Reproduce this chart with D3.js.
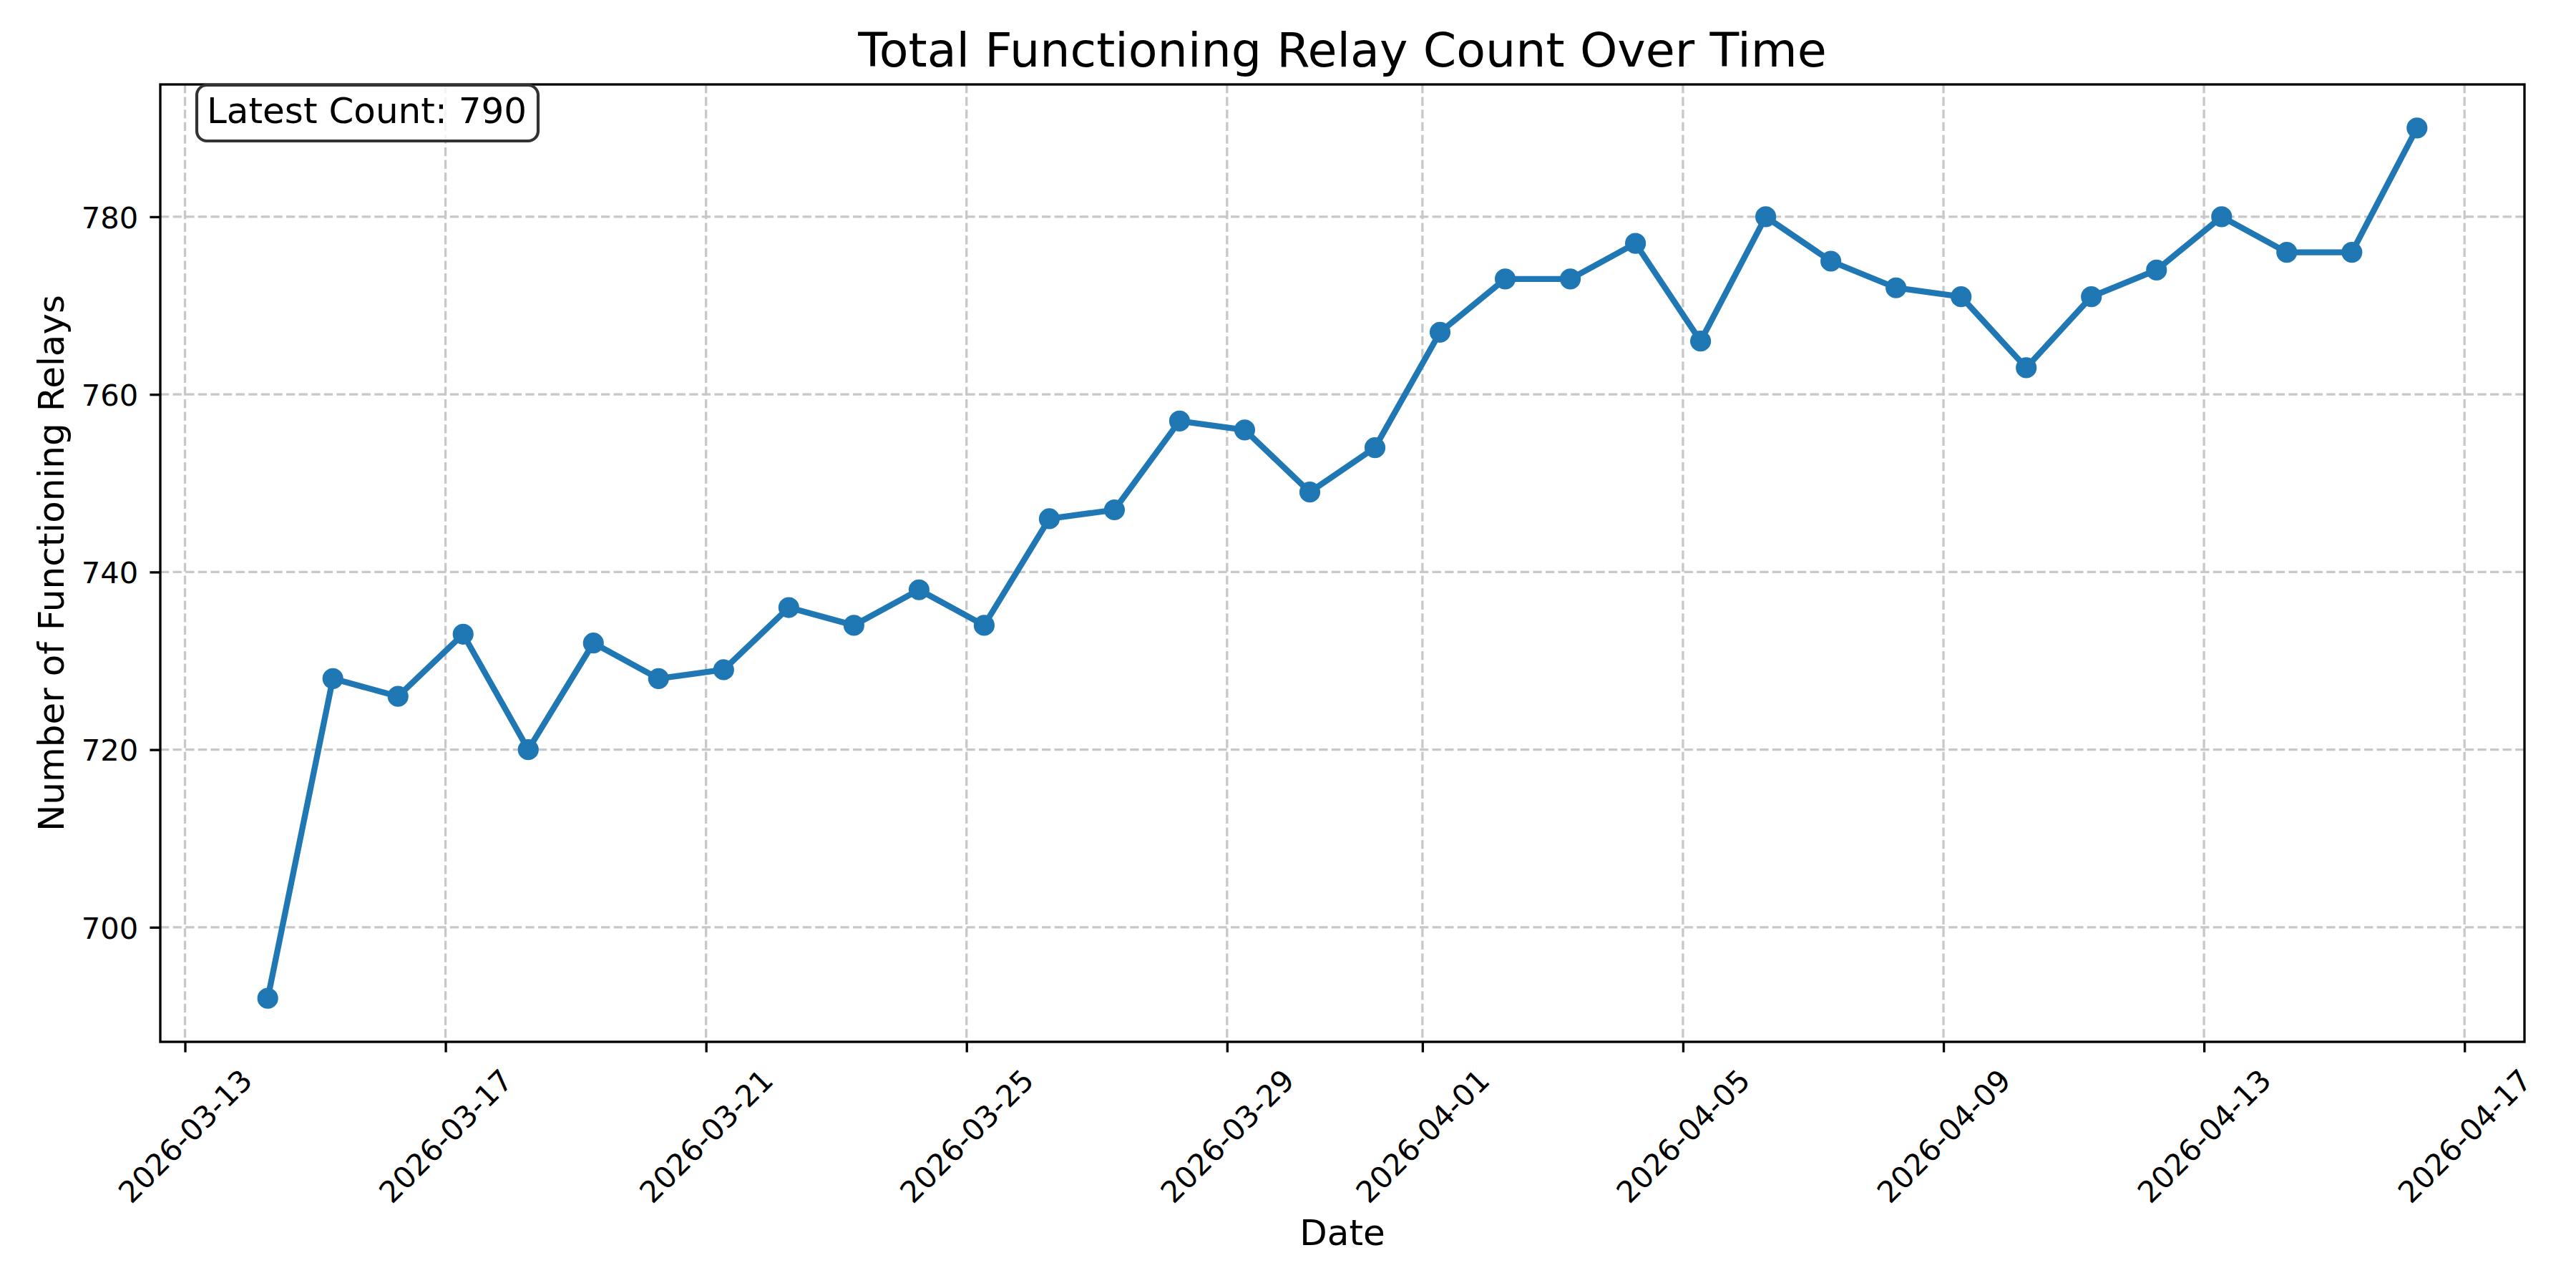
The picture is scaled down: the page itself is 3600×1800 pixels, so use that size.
<!DOCTYPE html>
<html>
<head>
<meta charset="utf-8">
<script src="https://cdn.jsdelivr.net/npm/d3@7"></script>
<style>
  html, body { margin: 0; padding: 0; background: #ffffff; }
  svg { display: block; }
  text { font-family: "DejaVu Sans", sans-serif; fill: #000; }
</style>
</head>
<body>
<svg id="chart" width="3600" height="1800"></svg>
<script>
// ---- data ----
const dates = [
  "2026-03-14 06:30","2026-03-15 06:30","2026-03-16 06:30","2026-03-17 06:30","2026-03-18 06:30",
  "2026-03-19 06:30","2026-03-20 06:30","2026-03-21 06:30","2026-03-22 06:30","2026-03-23 06:30",
  "2026-03-24 06:30","2026-03-25 06:30","2026-03-26 06:30","2026-03-27 06:30","2026-03-28 06:30",
  "2026-03-29 06:30","2026-03-30 06:30","2026-03-31 06:30","2026-04-01 06:30","2026-04-02 06:30",
  "2026-04-03 06:30","2026-04-04 06:30","2026-04-05 06:30","2026-04-06 06:30","2026-04-07 06:30",
  "2026-04-08 06:30","2026-04-09 06:30","2026-04-10 06:30","2026-04-11 06:30","2026-04-12 06:30",
  "2026-04-13 06:30","2026-04-14 06:30","2026-04-15 06:30","2026-04-16 06:30"
];
const relayCounts = [
  692, 728, 726, 733, 720, 732, 728, 729, 736, 734,
  738, 734, 746, 747, 757, 756, 749, 754, 767, 773,
  773, 777, 766, 780, 775, 772, 771, 763, 771, 774,
  780, 776, 776, 790
];
const xTickLabels = [
  "2026-03-13","2026-03-17","2026-03-21","2026-03-25","2026-03-29",
  "2026-04-01","2026-04-05","2026-04-09","2026-04-13","2026-04-17"
];
const yTickValues = [700, 720, 740, 760, 780];
const titleText = "Total Functioning Relay Count Over Time";
const xLabelText = "Date";
const yLabelText = "Number of Functioning Relays";
const annotationText = "Latest Count: " + relayCounts[relayCounts.length - 1];

// ---- layout ----
const M = { left: 224, right: 3528, top: 118, bottom: 1456 };
const color = "#1f77b4";
const gridColor = "#c8c8c8";
const tickFont = 41.7;

const parseT = d3.utcParse("%Y-%m-%d %H:%M");
const parseD = d3.utcParse("%Y-%m-%d");
const data = dates.map((d, i) => ({ t: parseT(d), v: relayCounts[i] }));
const xTicks = xTickLabels.map(parseD);

const tExt = d3.extent(data, d => d.t);
const tPad = (tExt[1] - tExt[0]) * 0.05;
const vExt = d3.extent(data, d => d.v);
const vPad = (vExt[1] - vExt[0]) * 0.05;

const x = d3.scaleUtc()
  .domain([new Date(+tExt[0] - tPad), new Date(+tExt[1] + tPad)])
  .range([M.left, M.right]);
const y = d3.scaleLinear()
  .domain([vExt[0] - vPad, vExt[1] + vPad])
  .range([M.bottom, M.top]);

const svg = d3.select("#chart");
svg.append("rect").attr("width", 3600).attr("height", 1800).attr("fill", "#fff");

// grid
const grid = svg.append("g");
grid.selectAll("line.vg").data(xTicks).join("line")
  .attr("x1", d => x(d)).attr("x2", d => x(d))
  .attr("y1", M.top).attr("y2", M.bottom)
  .attr("stroke", gridColor).attr("stroke-width", 3.33)
  .attr("stroke-dasharray", "12.3,5.3");
grid.selectAll("line.hg").data(yTickValues).join("line")
  .attr("x1", M.left).attr("x2", M.right)
  .attr("y1", d => y(d)).attr("y2", d => y(d))
  .attr("stroke", gridColor).attr("stroke-width", 3.33)
  .attr("stroke-dasharray", "12.3,5.3");

// line + markers
const line = d3.line().x(d => x(d.t)).y(d => y(d.v));
svg.append("path").datum(data)
  .attr("d", line).attr("fill", "none")
  .attr("stroke", color).attr("stroke-width", 8.33)
  .attr("stroke-linejoin", "round").attr("stroke-linecap", "butt");
svg.append("g").selectAll("circle").data(data).join("circle")
  .attr("cx", d => x(d.t)).attr("cy", d => y(d.v))
  .attr("r", 12.5).attr("fill", color)
  .attr("stroke", color).attr("stroke-width", 4.17);

// x axis (bottom)
const xAxis = d3.axisBottom(x).tickValues(xTicks)
  .tickSize(14.6).tickPadding(0).tickFormat(d3.utcFormat("%Y-%m-%d"));
const gx = svg.append("g").attr("transform", `translate(0,${M.bottom})`).call(xAxis);
gx.select(".domain").remove();
gx.selectAll(".tick line").attr("stroke", "#000").attr("stroke-width", 3.33);
gx.selectAll(".tick text").each(function(d) {
  const t = d3.select(this);
  t.attr("font-size", tickFont).attr("font-family", "DejaVu Sans").attr("fill", "#000");
  const w = this.getComputedTextLength();
  const h = tickFont * 1.16;
  const bb = (w + h) * Math.SQRT1_2;
  const cy = 14.6 + 14.6 + bb / 2;
  t.attr("x", 0).attr("y", 0).attr("dy", null)
   .attr("text-anchor", "middle").attr("dominant-baseline", "central")
   .attr("transform", `translate(0,${cy}) rotate(-45)`);
});

// y axis (left)
const yAxis = d3.axisLeft(y).tickValues(yTickValues).tickSize(14.6).tickPadding(14.6);
const gy = svg.append("g").attr("transform", `translate(${M.left},0)`).call(yAxis);
gy.select(".domain").remove();
gy.selectAll(".tick line").attr("stroke", "#000").attr("stroke-width", 3.33);
gy.selectAll(".tick text").attr("font-size", tickFont).attr("font-family", "DejaVu Sans")
  .attr("fill", "#000").attr("dy", "0.3645em").attr("x", -14.6 - 16);

// spines
svg.append("rect")
  .attr("x", M.left).attr("y", M.top)
  .attr("width", M.right - M.left).attr("height", M.bottom - M.top)
  .attr("fill", "none").attr("stroke", "#000").attr("stroke-width", 3.33);

// annotation box
const ann = svg.append("g");
ann.append("rect")
  .attr("x", 275).attr("y", 119).attr("width", 477).attr("height", 78)
  .attr("rx", 14).attr("ry", 14)
  .attr("fill", "#ffffff").attr("fill-opacity", 0.8)
  .attr("stroke", "#333333").attr("stroke-width", 4.17);
ann.append("text")
  .attr("x", 289).attr("y", 172)
  .attr("font-size", 50).text(annotationText);

// title
svg.append("text")
  .attr("x", (M.left + M.right) / 2).attr("y", 93)
  .attr("text-anchor", "middle").attr("font-size", 66.7)
  .text(titleText);

// axis labels
svg.append("text")
  .attr("x", (M.left + M.right) / 2).attr("y", 1740)
  .attr("text-anchor", "middle").attr("font-size", 50)
  .text(xLabelText);
svg.append("text")
  .attr("transform", `translate(72,${(M.top + M.bottom) / 2}) rotate(-90)`)
  .attr("text-anchor", "middle").attr("dominant-baseline", "central")
  .attr("font-size", 50)
  .text(yLabelText);
</script>
</body>
</html>
